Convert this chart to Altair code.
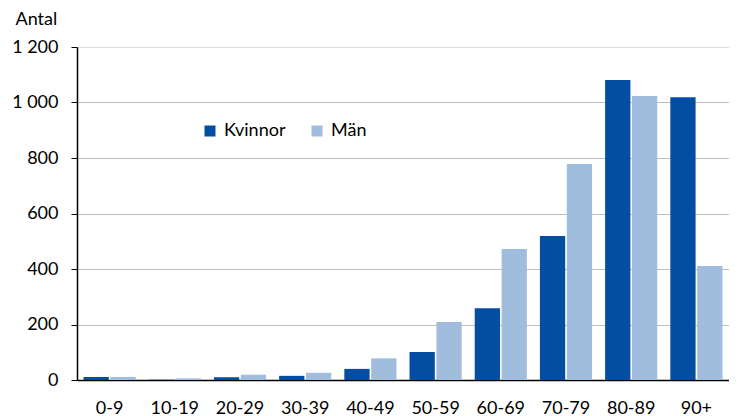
import altair as alt
import pandas as pd

groups = ["0-9", "10-19", "20-29", "30-39", "40-49", "50-59", "60-69", "70-79", "80-89", "90+"]
kvinnor = [11, 1, 10, 15, 40, 101, 259, 519, 1081, 1019]
man = [11, 6, 19, 26, 78, 209, 472, 778, 1023, 411]
series = ["Kvinnor", "Män"]
colors = ["#034EA2", "#A1BDDD"]

rows = []
for g, k, m in zip(groups, kvinnor, man):
    rows.append({"Ålder": g, "Kön": "Kvinnor", "Antal": k})
    rows.append({"Ålder": g, "Kön": "Män", "Antal": m})
df = pd.DataFrame(rows)

FONT = "Lato"
FS = 18

chart = alt.Chart(df).mark_bar().encode(
    x=alt.X("Ålder:N", sort=groups,
            scale=alt.Scale(paddingInner=0.2, paddingOuter=0.1),
            axis=alt.Axis(title=None, labelAngle=0, ticks=False, labelPadding=19,
                          domainColor="black", domainWidth=1.5, labelFontSize=FS,
                          labelColor="black", grid=False)),
    xOffset=alt.XOffset("Kön:N", sort=series, scale=alt.Scale(paddingInner=0.06)),
    y=alt.Y("Antal:Q", scale=alt.Scale(domain=[0, 1200], nice=False),
            axis=alt.Axis(values=[0, 200, 400, 600, 800, 1000, 1200],
                          labelExpr="replace(format(datum.value, ','), ',', ' ')",
                          title="Antal", titleAngle=0, titleX=-62, titleY=-28,
                          titleAlign="left", titleBaseline="middle",
                          titleFontSize=FS, titleFontWeight="normal", titleColor="black",
                          labelFontSize=FS, labelColor="black", labelPadding=13,
                          tickSize=6, tickColor="black", domainColor="black", domainWidth=1.5,
                          grid=True,
                          gridColor=alt.condition("datum.value == 1200 || datum.value == 0",
                                                  alt.value("transparent"), alt.value("#BFBFBF")),
                          gridWidth=1.2)),
    color=alt.Color("Kön:N", sort=series, scale=alt.Scale(domain=series, range=colors),
                    legend=alt.Legend(title=None, orient="none", legendX=124, legendY=75,
                                      direction="horizontal", symbolType="square",
                                      symbolSize=121, symbolStrokeWidth=0, labelFontSize=FS,
                                      labelColor="black", columnPadding=22, labelOffset=5)),
).properties(
    width=652, height=333,
    autosize=alt.AutoSizeParams(type="none"),
    padding={"left": 69, "top": 39, "right": 0, "bottom": 40},
).configure_view(stroke=None).configure(font=FONT)

chart.save("out.html", embed_options={"renderer": "svg", "actions": False})
